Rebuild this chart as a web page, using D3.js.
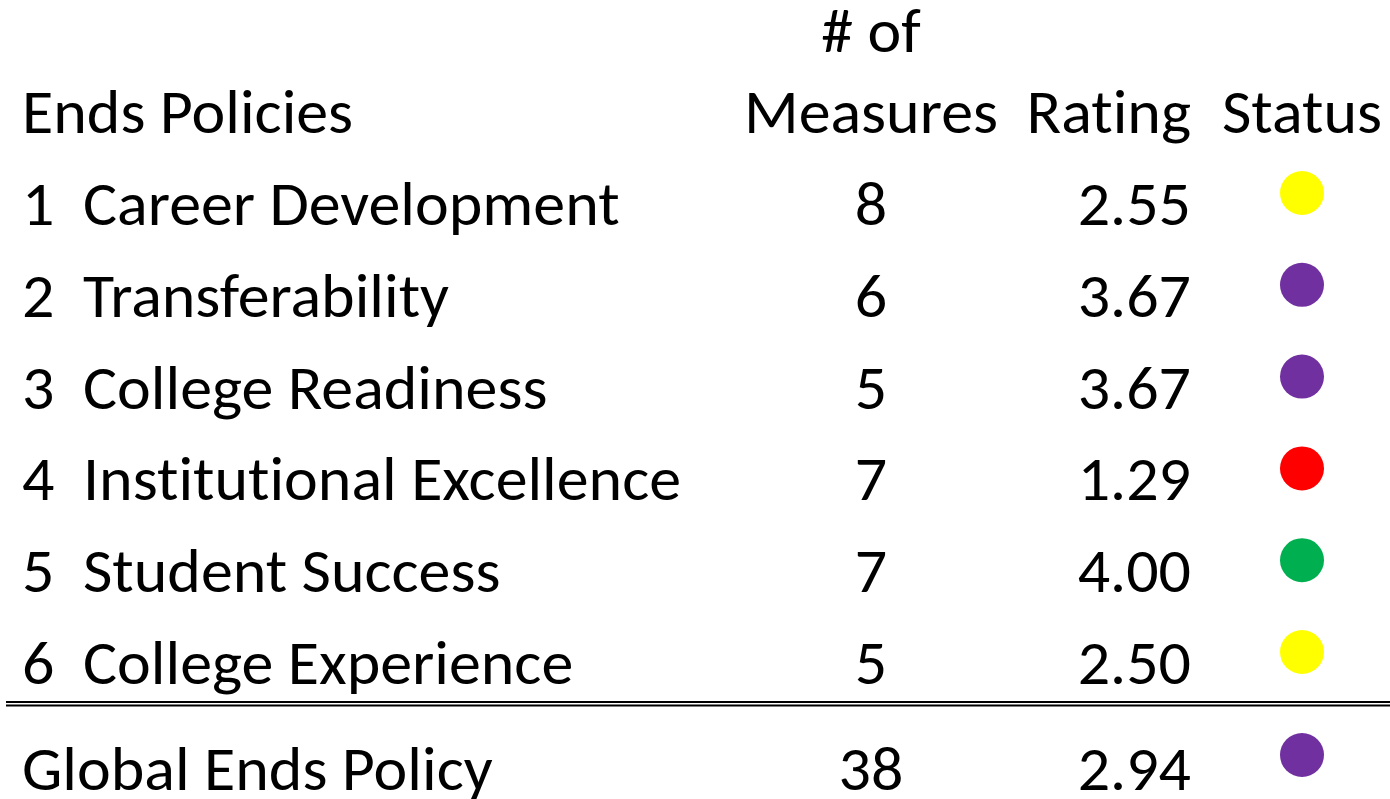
<!DOCTYPE html>
<html>
<head>
<meta charset="utf-8">
<script src="https://cdn.jsdelivr.net/npm/d3@7"></script>
<style>
  html, body { margin: 0; padding: 0; background: #fff; overflow: hidden; }
  svg text { font-family: Carlito, Calibri, Lato, "Open Sans", sans-serif; fill: #000;
    font-variant-ligatures: none; font-feature-settings: "liga" 0, "clig" 0; }
</style>
</head>
<body>
<div id="chart-container"></div>
<script>
const chartWidth = 1390;
const chartHeight = 799;

// Data
const policyNums = [1, 2, 3, 4, 5, 6];
const policyNames = ['Career Development', 'Transferability', 'College Readiness',
  'Institutional Excellence', 'Student Success', 'College Experience'];
const measures = [8, 6, 5, 7, 7, 5];
const ratings = [2.55, 3.67, 3.67, 1.29, 4.00, 2.50];
const statuses = ['yellow', 'purple', 'purple', 'red', 'green', 'yellow'];
const globalLabel = 'Global Ends Policy';
const globalMeasures = 38;
const globalRating = 2.94;
const globalStatus = 'purple';
const headers = ['Ends Policies', 'Measures', 'Rating', 'Status'];

const statusColors = { yellow: '#FFFF00', purple: '#7030A0', red: '#FF0000', green: '#00B050' };

const fontSize = 62;
const colNum = 22, colName = 83, colMeasures = 871, colRating = 1191, colStatus = 1302;

const svg = d3.select('#chart-container')
  .append('svg')
  .attr('width', chartWidth)
  .attr('height', chartHeight);

// row baselines
const yScale = d3.scaleLinear().domain([0, 5]).range([225, 684]);
const headerY = 133;
const globalY = 790;

const fitText = [];
const addText = (x, y, txt, anchor, fit) => {
  const t = svg.append('text')
    .attr('x', x)
    .attr('y', y)
    .attr('text-anchor', anchor || 'start')
    .style('font-size', fontSize + 'px')
    .text(txt);
  if (fit) fitText.push(t);
  return t;
};

// Header
addText(colMeasures, 52, '# of', 'middle', true);
addText(colNum, headerY, headers[0], 'start', true);
addText(colMeasures, headerY, headers[1], 'middle', true);
addText(colRating, headerY, headers[2], 'end', true);
addText(colStatus, headerY, headers[3], 'middle', true);

// Rows
const rows = svg.selectAll('g.row')
  .data(policyNames.map((n, i) => ({ num: policyNums[i], name: n, m: measures[i], r: ratings[i], s: statuses[i] })))
  .enter()
  .append('g')
  .attr('class', 'row')
  .attr('transform', (d, i) => `translate(0,${yScale(i)})`);

rows.append('text').attr('x', colNum).style('font-size', fontSize + 'px').text(d => d.num);
rows.append('text').attr('class', 'fit').attr('x', colName).style('font-size', fontSize + 'px').text(d => d.name);
rows.append('text').attr('x', colMeasures).attr('text-anchor', 'middle').style('font-size', fontSize + 'px').text(d => d.m);
rows.append('text').attr('x', colRating).attr('text-anchor', 'end').style('font-size', fontSize + 'px').text(d => d.r.toFixed(2));
rows.append('circle')
  .attr('cx', colStatus)
  .attr('cy', -32)
  .attr('r', 22)
  .attr('fill', d => statusColors[d.s]);

rows.selectAll('text.fit').each(function () { fitText.push(d3.select(this)); });

// Double rule
[702, 705.5].forEach((y) => {
  svg.append('line')
    .attr('x1', 6).attr('x2', chartWidth)
    .attr('y1', y).attr('y2', y)
    .attr('stroke', '#000')
    .attr('stroke-width', 1.8);
});

// Global row
addText(colNum, globalY, globalLabel, 'start', true);
addText(colMeasures, globalY, globalMeasures, 'middle');
addText(colRating, globalY, globalRating.toFixed(2), 'end');
svg.append('circle')
  .attr('cx', colStatus)
  .attr('cy', globalY - 35)
  .attr('r', 22)
  .attr('fill', statusColors[globalStatus]);

// squeeze the fallback font to roughly Calibri proportions
const ref = svg.append('text').style('font-size', fontSize + 'px').text('Institutional Excellence');
const k = 598 / ref.node().getComputedTextLength();
ref.remove();
if (Math.abs(k - 1) > 0.02) {
  fitText.forEach((t) => {
    const w = t.node().getComputedTextLength();
    t.attr('textLength', w * k).attr('lengthAdjust', 'spacingAndGlyphs');
  });
  // numbers too
  svg.selectAll('text').filter(function () { return !this.hasAttribute('textLength'); })
    .each(function () {
      const w = this.getComputedTextLength();
      d3.select(this).attr('textLength', w * k).attr('lengthAdjust', 'spacingAndGlyphs');
    });
}
</script>
</body>
</html>
